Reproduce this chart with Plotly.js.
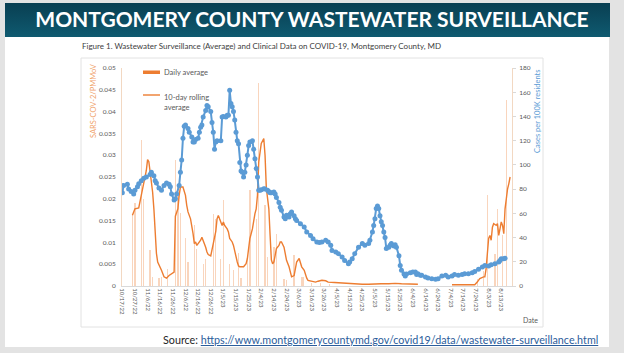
<!DOCTYPE html>
<html><head><meta charset="utf-8">
<script src="https://cdn.plot.ly/plotly-3.0.1.min.js"></script>
<style>
html,body{margin:0;padding:0;width:624px;height:353px;overflow:hidden;background:#e3e3e3;}
#slide{position:absolute;left:5px;top:3px;width:604px;height:344px;background:#fff;}
#banner{position:absolute;left:5px;top:3px;width:605px;height:34px;background:linear-gradient(#093f52,#0f5a70);}
#src{position:absolute;left:163px;top:333px;font-family:Lato,sans-serif;font-size:10.75px;color:#262626;white-space:nowrap;}
#src a{color:#2b5d9b;text-decoration:underline;}
#chart{position:absolute;left:0;top:0;width:624px;height:353px;}
</style></head>
<body>
<div id="slide"></div>
<div id="banner"></div>
<div id="chart"></div>
<div id="src">Source: <a href="https://www.montgomerycountymd.gov/covid19/data/wastewater-surveillance.html">https://www.montgomerycountymd.gov/covid19/data/wastewater-surveillance.html</a></div>
<script>
// ---- data ----
var caseDates = ['2022-10-17','2022-10-18','2022-10-21','2022-10-22','2022-10-24','2022-10-26','2022-10-27','2022-10-29','2022-10-30','2022-11-01','2022-11-03','2022-11-05','2022-11-08','2022-11-09','2022-11-11','2022-11-12','2022-11-13','2022-11-15','2022-11-17','2022-11-19','2022-11-21','2022-11-23','2022-11-24','2022-11-25','2022-11-27','2022-11-28','2022-11-29','2022-12-01','2022-12-02','2022-12-03','2022-12-04','2022-12-05','2022-12-06','2022-12-08','2022-12-09','2022-12-11','2022-12-12','2022-12-13','2022-12-14','2022-12-16','2022-12-17','2022-12-18','2022-12-19','2022-12-20','2022-12-22','2022-12-23','2022-12-24','2022-12-26','2022-12-27','2022-12-28','2022-12-29','2022-12-30','2022-12-31','2023-01-03','2023-01-04','2023-01-05','2023-01-07','2023-01-08','2023-01-09','2023-01-10','2023-01-11','2023-01-12','2023-01-13','2023-01-14','2023-01-15','2023-01-16','2023-01-17','2023-01-18','2023-01-19','2023-01-20','2023-01-21','2023-01-22','2023-01-23','2023-01-24','2023-01-25','2023-01-26','2023-01-28','2023-01-29','2023-01-30','2023-01-31','2023-02-01','2023-02-02','2023-02-03','2023-02-04','2023-02-06','2023-02-07','2023-02-09','2023-02-10','2023-02-11','2023-02-12','2023-02-14','2023-02-15','2023-02-16','2023-02-18','2023-02-19','2023-02-20','2023-02-22','2023-02-23','2023-02-24','2023-02-26','2023-02-27','2023-02-28','2023-03-02','2023-03-03','2023-03-04','2023-03-07','2023-03-10','2023-03-12','2023-03-15','2023-03-17','2023-03-20','2023-03-22','2023-03-24','2023-03-27','2023-03-29','2023-03-31','2023-04-01','2023-04-04','2023-04-06','2023-04-09','2023-04-11','2023-04-14','2023-04-15','2023-04-17','2023-04-19','2023-04-22','2023-04-25','2023-04-27','2023-04-30','2023-05-01','2023-05-03','2023-05-04','2023-05-05','2023-05-06','2023-05-07','2023-05-08','2023-05-09','2023-05-10','2023-05-11','2023-05-12','2023-05-13','2023-05-14','2023-05-16','2023-05-17','2023-05-18','2023-05-20','2023-05-21','2023-05-22','2023-05-24','2023-05-25','2023-05-26','2023-05-28','2023-05-29','2023-05-30','2023-06-02','2023-06-04','2023-06-06','2023-06-07','2023-06-08','2023-06-10','2023-06-11','2023-06-14','2023-06-16','2023-06-19','2023-06-22','2023-06-24','2023-06-27','2023-06-30','2023-07-02','2023-07-05','2023-07-07','2023-07-10','2023-07-13','2023-07-15','2023-07-18','2023-07-21','2023-07-23','2023-07-26','2023-07-29','2023-07-31','2023-08-03','2023-08-05','2023-08-08','2023-08-11','2023-08-12','2023-08-13','2023-08-15','2023-08-16'];
var casesPer100k = [77,83,84,80,78,76,79,82,84.5,87,89,90,92,94,91,87,85,81,79,83,85,84,82,76,71,72,76,83,94,104,122,132,133,130,127,123,119,119,121,122,127,131,133,139.5,145,149,148,144,135,127,113,119,120,120,139.5,140,139.5,141,141,161.6,150.6,148,144,137,127,120,117.5,102,95,94,90,94,100,108,116,119,120,113,105,97,90,79,79,79.5,80.4,80,79,78,77,77,77.6,76,73,69,65,62.5,57,55.6,58.4,57,59.7,61,58,55.6,54,51.5,48.7,44.6,41.8,39,36.3,36,36.3,37.7,36.3,33.6,29.4,28,26.7,24,21,18.4,19.8,22.6,26.7,32,35,33.6,35,37.7,44.6,50,55.6,64,66,64,58,53,50,44.6,40,31,32,33.6,35,33,34,32,25,17,13,10,8.3,10,11,11.6,11.6,9.4,10.2,8.8,8.8,7.4,6.6,6,5.5,6,8.3,8.8,7.4,8.3,9.4,8.8,9.4,10.2,10.2,11,12,13.8,15.7,17,16.5,17.6,18.4,19.8,21,22.6,22.6,23];

var rollDates = ['2022-10-25','2022-10-27','2022-10-30','2022-10-31','2022-11-02','2022-11-03','2022-11-04','2022-11-05','2022-11-06','2022-11-07','2022-11-08','2022-11-10','2022-11-11','2022-11-12','2022-11-13','2022-11-14','2022-11-15','2022-11-17','2022-11-19','2022-11-21','2022-11-23','2022-11-25','2022-11-27','2022-11-28','2022-11-30','2022-12-01','2022-12-02','2022-12-04','2022-12-06','2022-12-07','2022-12-08','2022-12-10','2022-12-11','2022-12-12','2022-12-13','2022-12-14','2022-12-15','2022-12-16','2022-12-18','2022-12-19','2022-12-20','2022-12-22','2022-12-23','2022-12-24','2022-12-26','2022-12-27','2022-12-28','2022-12-30','2022-12-31','2023-01-01','2023-01-02','2023-01-04','2023-01-05','2023-01-06','2023-01-08','2023-01-09','2023-01-10','2023-01-12','2023-01-13','2023-01-14','2023-01-15','2023-01-16','2023-01-17','2023-01-18','2023-01-21','2023-01-23','2023-01-24','2023-01-25','2023-01-26','2023-01-28','2023-01-29','2023-01-30','2023-01-31','2023-02-01','2023-02-02','2023-02-03','2023-02-04','2023-02-06','2023-02-07','2023-02-08','2023-02-10','2023-02-11','2023-02-12','2023-02-13','2023-02-14','2023-02-15','2023-02-16','2023-02-18','2023-02-19','2023-02-20','2023-02-22','2023-02-23','2023-02-24','2023-02-26','2023-02-27','2023-02-28','2023-03-02','2023-03-03','2023-03-04','2023-03-06','2023-03-07','2023-03-08','2023-03-10','2023-03-11','2023-03-12','2023-03-13','2023-03-16','2023-03-19','2023-03-21','2023-03-24','2023-03-27','2023-03-29','2023-04-03','2023-04-09','2023-04-14','2023-04-19','2023-04-25','2023-04-30','2023-05-05','2023-05-10','2023-05-16','2023-05-21','2023-05-26','2023-06-01','2023-06-06','2023-06-08','2023-06-09','2023-07-05','2023-07-14','2023-07-23','2023-07-25','2023-07-27','2023-07-30','2023-07-31','2023-08-01','2023-08-02','2023-08-03','2023-08-04','2023-08-05','2023-08-06','2023-08-07','2023-08-08','2023-08-09','2023-08-10','2023-08-11','2023-08-12','2023-08-13','2023-08-14','2023-08-15','2023-08-16','2023-08-17','2023-08-18','2023-08-19','2023-08-20'];
var rollingAvg = [0.0162,0.0177,0.0179,0.0193,0.0223,0.0239,0.025,0.0265,0.029,0.0285,0.0262,0.0215,0.0177,0.0116,0.0075,0.0055,0.0047,0.0036,0.0021,0.0018,0.0024,0.0028,0.0032,0.016,0.0177,0.0208,0.0227,0.0227,0.0208,0.0185,0.017,0.0154,0.0139,0.012,0.0097,0.0101,0.0093,0.0097,0.0105,0.0112,0.0105,0.0089,0.0078,0.0072,0.0069,0.0082,0.0101,0.0125,0.0154,0.0162,0.0154,0.0139,0.0147,0.0139,0.0131,0.0124,0.0109,0.0101,0.0093,0.0078,0.007,0.0055,0.0046,0.0044,0.0044,0.0051,0.0063,0.0086,0.0109,0.0131,0.0154,0.0166,0.0177,0.0208,0.0284,0.0304,0.0327,0.0338,0.03,0.0225,0.0177,0.0116,0.006,0.0051,0.0055,0.007,0.0086,0.0093,0.0101,0.0101,0.0089,0.0074,0.0059,0.0044,0.0032,0.0021,0.0024,0.0044,0.0055,0.0063,0.0055,0.0044,0.0036,0.0024,0.0018,0.0013,0.0011,0.0009,0.0011,0.0013,0.0012,0.0009,0.0008,0.0007,0.0005,0.0004,0.0004,0.0004,0.0005,0.0005,0.0005,0.0006,0.0005,0.0004,0.0004,0.0004,null,0.0003,0.0003,0.0003,0.0009,0.0017,0.0021,0.0021,0.004,0.0086,0.0109,0.0116,0.0105,0.0135,0.0143,0.0141,0.0139,0.0143,0.0116,0.0131,0.0147,0.0139,0.012,0.0177,0.0208,0.0223,0.0235,0.025];

var dailyDates = ['2022-10-25','2022-10-27','2022-11-01','2022-11-03','2022-11-08','2022-11-10','2022-11-15','2022-11-17','2022-11-22','2022-11-28','2022-11-30','2022-12-02','2022-12-06','2022-12-08','2022-12-13','2022-12-15','2022-12-20','2022-12-22','2022-12-28','2022-12-30','2023-01-03','2023-01-05','2023-01-10','2023-01-13','2023-01-17','2023-01-19','2023-01-24','2023-01-26','2023-01-31','2023-02-02','2023-02-07','2023-02-09','2023-02-14','2023-02-16','2023-02-22','2023-02-24','2023-03-02','2023-03-08','2023-03-09','2023-03-16','2023-03-23','2023-03-30','2023-07-25','2023-07-30','2023-08-02','2023-08-08','2023-08-10','2023-08-14','2023-08-17'];
var dailyAvg = [0.0165,0.019,0.0335,0.02,0.0082,0.0021,0.0018,0.002,0.004,0.029,0.0227,0.0167,0.0109,0.0055,0.014,0.0086,0.0051,0.0063,0.0166,0.0154,0.0063,0.0197,0.0051,0.0036,0.0076,0.0018,0.0063,0.022,0.0154,0.0466,0.0185,0.0067,0.0089,0.012,0.0017,0.0013,0.007,0.0021,0.002,0.0008,0.0006,0.0005,0.0015,0.0035,0.0208,0.0074,0.0177,0.0117,0.0426];

var tickDates = ['2022-10-17','2022-10-27','2022-11-06','2022-11-16','2022-11-26','2022-12-06','2022-12-16','2022-12-26','2023-01-05','2023-01-15','2023-01-25','2023-02-04','2023-02-14','2023-02-24','2023-03-06','2023-03-16','2023-03-26','2023-04-05','2023-04-15','2023-04-25','2023-05-05','2023-05-15','2023-05-25','2023-06-04','2023-06-14','2023-06-24','2023-07-04','2023-07-14','2023-07-24','2023-08-03','2023-08-13'];

// ---- layout helpers (pixel -> paper) ----
var L=122, R=512, T=68, B=286;
function X(p){return (p-L)/(R-L);}
function Y(p){return (B-p)/(B-T);}

var orange='#ed7d31', blue='#5b9bd5';

var traces = [
  {type:'bar', x:dailyDates, y:dailyAvg, width:86400000*1.0, marker:{color:'rgba(237,125,49,0.32)', line:{width:0}}, name:'Daily average', yaxis:'y', hoverinfo:'skip'},
  {type:'scatter', mode:'lines', x:rollDates, y:rollingAvg, line:{color:orange, width:1.4}, connectgaps:false, name:'10-day rolling average', yaxis:'y'},
  {type:'scatter', mode:'lines+markers', x:caseDates, y:casesPer100k, line:{color:blue, width:2}, marker:{color:blue, size:5}, name:'Cases per 100K residents', yaxis:'y2'}
];

var axFont = {family:'Lato, sans-serif', size:6.5, color:'#595959'};
var layout = {
  width:624, height:353,
  margin:{l:L, r:624-R, t:T, b:353-B, pad:0},
  paper_bgcolor:'rgba(0,0,0,0)', plot_bgcolor:'rgba(0,0,0,0)',
  showlegend:false,
  font:{family:'Lato, sans-serif', color:'#595959', size:7},
  title:{text:'MONTGOMERY COUNTY WASTEWATER SURVEILLANCE', font:{family:'Lato, sans-serif', size:21, color:'#ffffff', weight:700},
         x:0.5, xanchor:'center', xref:'container', y:1-20/353, yanchor:'middle', yref:'container'},
  xaxis:{type:'date', range:['2022-10-16 18:00','2023-08-21 12:00'], tickmode:'array', tickvals:tickDates, tickformat:'%-m/%-d/%y',
         tickangle:90, showgrid:false, zeroline:false, showline:true, linecolor:'#d9d9d9', linewidth:1, ticks:'', tickfont:{family:'Lato, sans-serif', size:6, color:'#595959'}},
  yaxis:{range:[0,0.05], dtick:0.005, showgrid:false, zeroline:false, showline:true, linecolor:'#f2d8c2', ticks:'', tickfont:axFont, ticklabelstandoff:4},
  yaxis2:{range:[0,180], dtick:20, overlaying:'y', side:'right', showgrid:false, zeroline:false, showline:true, linecolor:'#f2d8c2',
          ticks:'outside', ticklen:3, tickcolor:'#d9d9d9', tickfont:axFont, ticklabelstandoff:2},
  bargap:0,
  shapes:[
    {type:'rect', xref:'paper', yref:'paper', x0:X(81), x1:X(543), y0:Y(327), y1:Y(58), line:{color:'#e2e2e2', width:1}, layer:'below'},
    {type:'rect', xref:'paper', yref:'paper', x0:X(143), x1:X(160), y0:Y(74), y1:Y(70.5), fillcolor:orange, line:{width:0}},
    {type:'line', xref:'paper', yref:'paper', x0:X(143), x1:X(160), y0:Y(95), y1:Y(95), line:{color:orange, width:1.4}}
  ],
  annotations:[
    {xref:'paper', yref:'paper', x:X(80), y:Y(46), xanchor:'left', yanchor:'middle', showarrow:false,
     text:'Figure 1. Wastewater Surveillance (Average) and Clinical Data on COVID-19, Montgomery County, MD', font:{size:8, color:'#404040'}},
    {xref:'paper', yref:'paper', x:X(162), y:Y(72), xanchor:'left', yanchor:'middle', showarrow:false, text:'Daily average', font:{size:7.5, color:'#595959'}},
    {xref:'paper', yref:'paper', x:X(162), y:Y(91), xanchor:'left', yanchor:'top', align:'left', showarrow:false, text:'10-day rolling<br>average', font:{size:7.5, color:'#595959'}},
    {xref:'paper', yref:'paper', x:X(93), y:Y(101), xanchor:'center', yanchor:'middle', textangle:-90, showarrow:false, text:'SARS-COV-2/PMMoV', font:{size:7.5, color:'#f0a36c'}},
    {xref:'paper', yref:'paper', x:X(537), y:Y(111), xanchor:'center', yanchor:'middle', textangle:-90, showarrow:false, text:'Cases per 100K residents', font:{size:7.5, color:blue}},
    {xref:'paper', yref:'paper', x:X(530), y:Y(320), xanchor:'center', yanchor:'middle', showarrow:false, text:'Date', font:{size:7, color:'#595959'}}
  ]
};

Plotly.newPlot('chart', traces, layout, {displayModeBar:false, staticPlot:true});
</script>
</body></html>
